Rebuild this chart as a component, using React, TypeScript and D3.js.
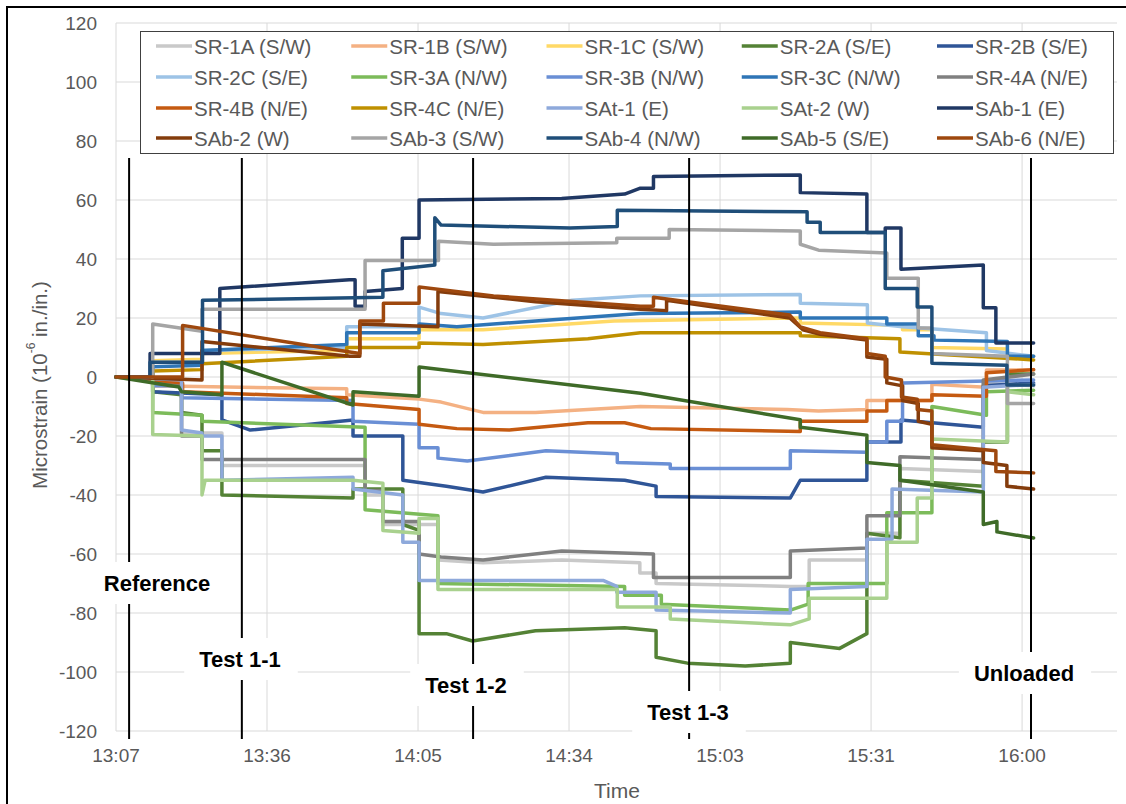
import React, { useEffect, useRef } from 'react';
import * as d3 from 'd3';

type Pt = [number, number];

// time in minutes after 13:07, microstrain values
const xTickMinutes = [0, 28.8, 57.6, 86.4, 115.2, 144, 172.8];
const xTickLabels = ['13:07', '13:36', '14:05', '14:34', '15:03', '15:31', '16:00'];
const yTicks = [-120, -100, -80, -60, -40, -20, 0, 20, 40, 60, 80, 100, 120];

const eventNames = ['Reference', 'Test 1-1', 'Test 1-2', 'Test 1-3', 'Unloaded'];
const eventMinutes = [2.5, 24.0, 68.1, 109.3, 174.5];

const seriesNames = [
  'SR-1A (S/W)', 'SR-1B (S/W)', 'SR-1C (S/W)', 'SR-2A (S/E)', 'SR-2B (S/E)',
  'SR-2C (S/E)', 'SR-3A (N/W)', 'SR-3B (N/W)', 'SR-3C (N/W)', 'SR-4A (N/E)',
  'SR-4B (N/E)', 'SR-4C (N/E)', 'SAt-1 (E)', 'SAt-2 (W)', 'SAb-1 (E)',
  'SAb-2 (W)', 'SAb-3 (S/W)', 'SAb-4 (N/W)', 'SAb-5 (S/E)', 'SAb-6 (N/E)',
];
const seriesColors = [
  '#C9C9C9', '#F4B183', '#FFD966', '#548235', '#2F5597',
  '#9DC3E6', '#7CBB5A', '#6A8FD5', '#2E75B6', '#808080',
  '#C55A11', '#BF9000', '#8EA9DB', '#A9D18E', '#203864',
  '#843C0C', '#A5A5A5', '#1F4E79', '#3F6B28', '#9E480E',
];

const sr1A: Pt[] = [[0,0],[7,0],[7,-3],[12.5,-3],[12.5,-19],[20.2,-19],[20.2,-30],[47.5,-30],[47.5,-40],[50.9,-40],[50.9,-50],[61.4,-50],[61.4,-62],[70,-63],[85,-62],[99.9,-63],[99.9,-66.4],[103,-66.4],[103,-70],[128.6,-71],[132.2,-71],[132.2,-62],[143.2,-62],[143.2,-53],[149.5,-53],[149.5,-31],[165.4,-32],[165.4,-2],[175,-3]];
const sr1B: Pt[] = [[0,0],[7,-1],[7,-3],[44,-4],[44,-6],[57.8,-7.5],[62,-8.5],[70,-12],[80,-12],[100,-10],[128,-11],[134,-11.5],[143.2,-11],[143.2,-8],[155.6,-8],[155.6,-2.5],[166,-3.5],[166,2.4],[175,2.4]];
const sr1C: Pt[] = [[0,0],[7,0],[7,5.5],[16.4,6],[16.4,8],[44,9],[44,13],[57.8,13],[57.8,16],[70,16],[95,19],[130.5,20],[130.5,18.3],[150,17.5],[150,16],[155.6,16],[155.6,10],[170,9.5],[170,7],[175,7]];
const sr2A: Pt[] = [[0,0],[7,0],[7,-5],[12.5,-6],[12.5,-12],[16.4,-13],[16.4,-25],[20.2,-25],[20.2,-40],[45.2,-41],[45.2,-38],[54.7,-38],[54.7,-50],[57.8,-52],[57.8,-87],[63,-87],[68,-89.5],[80,-86],[97,-85],[103,-86],[103,-95],[109,-97],[120,-98],[128.6,-97],[128.6,-90],[138,-92],[143.2,-87],[143.2,-53],[149.5,-54.5],[149.5,-35],[165.4,-37],[165.4,-22],[170,-22],[170,1],[175,1]];
const sr2B: Pt[] = [[0,0],[7,0],[7,-5],[20.2,-6],[20.2,-14.5],[25.6,-18],[45.2,-14.6],[45.2,-20],[54.7,-20],[54.7,-35],[63,-37],[70,-39],[82,-34],[97,-35],[103,-37],[103,-40.5],[128.6,-41],[130.5,-35],[143.2,-35],[143.2,-22],[149.7,-22],[149.7,-14.6],[165.4,-17],[165.4,-3],[175,-2]];
const sr2C: Pt[] = [[0,0],[7,0],[7,5],[16.4,5],[16.4,9],[44,10],[44,17],[57.8,17],[57.8,23.7],[62,21.5],[70,20],[87,26],[100,27.5],[130.5,28],[130.5,25],[143.3,24.5],[143.3,18.3],[150,17],[166,15],[166,9],[175,7]];
const sr3A: Pt[] = [[0,0],[7,0],[7,-12],[16.4,-13],[16.4,-15],[47.5,-17],[47.5,-45],[61.4,-47],[61.4,-70],[97,-71],[97,-74],[104,-74],[104,-77],[128.6,-79],[132,-77],[132,-70],[147,-70],[147,-46],[155.6,-46],[155.6,-10],[166,-13],[166,-5],[175,-4.5]];
const sr3B: Pt[] = [[0,0],[7,0],[7,-3],[12.5,-3],[12.5,-7],[45.2,-8],[45.2,-15],[57.8,-16],[57.8,-24],[61.4,-24],[61.4,-27.5],[67,-28.5],[82,-25],[95.6,-26],[95.6,-29],[105.7,-29.5],[105.7,-31],[128.6,-31],[128.6,-25],[143.2,-25.5],[143.2,-22],[147,-22],[147,-15],[150,-15],[150,-2],[175,-1]];
const sr3C: Pt[] = [[0,0],[7,0],[7,3.5],[16.4,4],[16.4,9],[44,11],[44,15],[57.8,15],[57.8,18],[65,17],[80,19],[100,21.5],[130.5,22],[130.5,20],[147,20],[147,18],[153,18],[153,14],[156,14],[156,12.5],[170,12],[170,7],[175,7]];
const sr4A: Pt[] = [[0,0],[7,0],[7,-2],[12.5,-3],[12.5,-20],[16.4,-20],[16.4,-28],[47.5,-28],[47.5,-38.5],[50.9,-38.5],[50.9,-49],[57.8,-49],[57.8,-60],[62,-61],[70,-62],[85,-59],[102.5,-60],[102.5,-68],[128.6,-68],[128.6,-59],[143.2,-58],[143.2,-47],[149.5,-47],[149.5,-27],[165.4,-28],[165.4,-1],[175,1]];
const sr4B: Pt[] = [[0,0],[7,-1],[12.7,-2],[12.7,-5],[44,-7],[44,-9],[57.8,-11],[57.8,-16],[65,-17.5],[75,-18],[90,-15.5],[97,-15.5],[102,-17.5],[130.5,-18.5],[130.5,-15],[143.2,-15],[143.2,-11.5],[147,-11.5],[147,-8],[155.6,-8],[155.6,-6],[166,-6.5],[166,1.4],[175,2.5]];
const sr4C: Pt[] = [[0,0],[7,0],[7,2],[16.4,2.5],[16.4,4.5],[44,7],[44,10],[57.8,10],[57.8,11.5],[70,11],[90,13],[100,15],[130.5,15],[130.5,14],[149.5,13],[149.5,8.5],[175,5.8]];
const sat1: Pt[] = [[0,0],[12.5,-1],[12.5,-18],[16.4,-19],[16.4,-20],[20.2,-20],[20.2,-35],[45.2,-34],[45.2,-38],[54.7,-40],[54.7,-56],[57.8,-56],[57.8,-69],[93,-69],[95.5,-71],[95.5,-73],[103,-73],[103,-79],[128.6,-80],[128.6,-72],[143.2,-71],[143.2,-55],[148,-55],[148,-38],[165.4,-39],[165.4,-3.5],[175,-2.5]];
const sat2: Pt[] = [[0,0],[7,0],[7,-19.5],[16.4,-20],[16.4,-40],[17,-35],[45.2,-35],[50.9,-36],[50.9,-52],[57.8,-53],[57.8,-48],[61.4,-48],[61.4,-72],[95.6,-72],[95.6,-78],[105.7,-78],[105.7,-82],[128.6,-84],[132.2,-82],[132.2,-75],[147,-75],[147,-56],[152.8,-56],[152.8,-41],[155.6,-41],[155.6,-21],[170,-22],[170,-5],[175,-6]];
const sab1: Pt[] = [[0,0],[6.5,0],[6.5,8],[19.8,8],[19.8,30],[44.5,33],[45.6,33],[45.6,24],[47.5,24],[47.5,29],[54.6,30],[54.6,47],[57.8,47],[57.8,60],[85,60.5],[97,62],[100,64],[102.5,64],[102.5,68],[130.5,68.5],[130.5,62.5],[143.2,62],[143.2,49],[146.7,49],[146.7,50.5],[149.7,50.5],[149.7,36.5],[165.4,38],[165.4,23.5],[167.8,23.5],[167.8,11.5],[175,11.5]];
const sab2: Pt[] = [[0,0],[16.4,-1],[16.4,12],[44.6,7],[46.5,7],[46.5,18],[61.4,17],[61.4,29],[80,25.5],[100,23],[105,22.5],[105,26],[128.5,20],[131,16],[134.3,14.5],[143.2,12.5],[143.2,6.8],[147,6],[147,-2],[150,-3],[150,-8],[153,-9],[153,-15],[155.6,-16],[155.6,-24],[165.4,-25],[165.4,-29],[169.9,-30],[169.9,-37],[175,-38]];
const sab3: Pt[] = [[0,0],[7,0],[7,18],[16.4,15.5],[16.4,23],[47.5,23],[47.5,39.5],[61.5,39.5],[61.5,46],[72,45],[95.5,45.5],[95.5,47],[105.5,47],[105.5,50],[130.5,49.5],[130.5,45],[134,43],[147,42],[147,33.5],[153,33.5],[153,16.6],[155.6,16.6],[155.6,8],[170,7],[170,-9],[175,-9]];
const sab4: Pt[] = [[0,0],[6.5,0],[6.5,5],[16.5,5],[16.5,26],[50.9,27],[50.9,36],[60.8,38],[60.8,54],[62,51.5],[86.6,50.5],[95.6,51],[95.6,56.5],[131.8,56],[131.8,52.5],[134.3,52.5],[134.3,49],[146.7,49],[146.7,30],[152.8,30],[152.8,23.7],[155.6,23.7],[155.6,4.7],[169.9,4],[169.9,-2.7],[175,-2.7]];
const sab5: Pt[] = [[0,0],[12,-3.4],[12.5,-5],[20.2,-6],[20.2,5],[45.2,-9.5],[45.2,-5],[57.8,-6.5],[57.8,3.4],[100,-5.5],[130.5,-14.5],[130.5,-17],[143.2,-19.7],[143.2,-29],[149.5,-30],[149.5,-35],[165.4,-39],[165.4,-50],[168,-49],[168,-52.5],[175,-54.6]];
const sab6: Pt[] = [[0,0],[12.7,0],[12.7,17.5],[44.6,8.5],[46.5,8],[46.5,19],[51,19],[51,25],[57.8,25],[57.8,30.5],[72,27.5],[100,24],[102.5,24],[102.5,27],[128.5,21],[130.5,17],[134.3,15],[143.2,13],[143.2,8],[146.7,7],[146.7,0],[149.8,-1],[149.8,-6.8],[152.8,-7.5],[152.8,-11],[155.6,-11.5],[155.6,-23],[167.8,-25],[167.8,-32],[175,-32.5]];

const seriesData: Pt[][] = [
  sr1A, sr1B, sr1C, sr2A, sr2B, sr2C, sr3A, sr3B, sr3C, sr4A,
  sr4B, sr4C, sat1, sat2, sab1, sab2, sab3, sab4, sab5, sab6,
];

const FONT = "'Liberation Sans', Arial, sans-serif";

export default function App() {
  const ref = useRef<SVGSVGElement>(null);

  useEffect(() => {
    const svg = d3.select(ref.current);
    svg.selectAll('*').remove();

    const left = 116, right = 1117, top = 23, bottom = 731;
    const x = d3.scaleLinear().domain([0, 190.9]).range([left, right]);
    const y = d3.scaleLinear().domain([-120, 120]).range([bottom, top]);

    svg.append('rect').attr('width', 1126).attr('height', 804).attr('fill', '#fff');

    // frame
    svg.append('path').attr('d', 'M7,804V7H1126').attr('fill', 'none').attr('stroke', '#000').attr('stroke-width', 2);

    // gridlines
    const grid = svg.append('g');
    grid.selectAll('line.h').data(yTicks).join('line')
      .attr('x1', left).attr('x2', right)
      .attr('y1', d => y(d)).attr('y2', d => y(d))
      .attr('stroke', '#D9D9D9').attr('stroke-width', 1);
    grid.selectAll('line.v').data(xTickMinutes).join('line')
      .attr('x1', d => x(d)).attr('x2', d => x(d))
      .attr('y1', top).attr('y2', bottom)
      .attr('stroke', '#D9D9D9').attr('stroke-width', 1);

    // y tick labels
    svg.append('g').selectAll('text').data(yTicks).join('text')
      .attr('x', 97).attr('y', d => y(d))
      .attr('text-anchor', 'end').attr('dominant-baseline', 'central')
      .attr('font-family', FONT).attr('font-size', 19).attr('fill', '#595959')
      .text(d => String(d));

    // x tick labels
    svg.append('g').selectAll('text').data(xTickMinutes).join('text')
      .attr('x', d => x(d)).attr('y', 755)
      .attr('text-anchor', 'middle').attr('dominant-baseline', 'central')
      .attr('font-family', FONT).attr('font-size', 19).attr('fill', '#595959')
      .text((_, i) => xTickLabels[i]);

    // axis titles
    svg.append('text').attr('x', 617).attr('y', 790)
      .attr('text-anchor', 'middle').attr('dominant-baseline', 'central')
      .attr('font-family', FONT).attr('font-size', 21).attr('fill', '#595959')
      .text('Time');
    const yt = svg.append('text')
      .attr('transform', 'translate(39,385) rotate(-90)')
      .attr('text-anchor', 'middle').attr('dominant-baseline', 'central')
      .attr('font-family', FONT).attr('font-size', 20.5).attr('fill', '#595959');
    yt.append('tspan').text('Microstrain  (10');
    yt.append('tspan').attr('font-size', 12).attr('dy', -8).text('-6');
    yt.append('tspan').attr('dy', 8).text('  in./in.)');

    // series
    const line = d3.line<Pt>().x(d => x(d[0])).y(d => y(d[1]));
    const sg = svg.append('g');
    seriesData.forEach((data, i) => {
      sg.append('path').attr('d', line(data) || '')
        .attr('fill', 'none').attr('stroke', seriesColors[i])
        .attr('stroke-width', 3.5).attr('stroke-linejoin', 'round').attr('stroke-linecap', 'round');
    });

    // events
    const labelCX = [157, 240, 466, 688, 1024];
    const labelCY = [583, 659, 685, 712, 673];
    const eg = svg.append('g');
    eventMinutes.forEach((t) => {
      const ex = x(t);
      eg.append('line').attr('x1', ex).attr('x2', ex).attr('y1', 158).attr('y2', 739)
        .attr('stroke', '#000').attr('stroke-width', 2);
    });
    eventNames.forEach((name, i) => {
      const g = eg.append('g');
      const rect = g.append('rect').attr('fill', '#fff');
      const txt = g.append('text').attr('x', labelCX[i]).attr('y', labelCY[i])
        .attr('text-anchor', 'middle').attr('dominant-baseline', 'central')
        .attr('font-family', FONT).attr('font-weight', 'bold').attr('font-size', 22).attr('fill', '#000')
        .text(name);
      const bb = (txt.node() as SVGTextElement).getBBox();
      rect.attr('x', bb.x - 15).attr('y', labelCY[i] - 21).attr('width', bb.width + 32).attr('height', 42);
    });

    // legend
    const lg = svg.append('g');
    lg.append('rect').attr('x', 140.5).attr('y', 31.5).attr('width', 973).attr('height', 122)
      .attr('fill', '#fff').attr('stroke', '#404040').attr('stroke-width', 1);
    const colX = [156, 351.25, 546.5, 741.75, 937];
    const rowY = [46, 77, 108, 138];
    seriesNames.forEach((name, i) => {
      const cx = colX[i % 5], cy = rowY[Math.floor(i / 5)];
      lg.append('line').attr('x1', cx).attr('x2', cx + 36).attr('y1', cy).attr('y2', cy)
        .attr('stroke', seriesColors[i]).attr('stroke-width', 3.5);
      lg.append('text').attr('x', cx + 38).attr('y', cy)
        .attr('dominant-baseline', 'central')
        .attr('font-family', FONT).attr('font-size', 20.5).attr('fill', '#595959')
        .text(name);
    });
  }, []);

  return (
    <svg ref={ref} width={1126} height={804}
      style={{ position: 'absolute', left: 0, top: 0, display: 'block' }} />
  );
}
